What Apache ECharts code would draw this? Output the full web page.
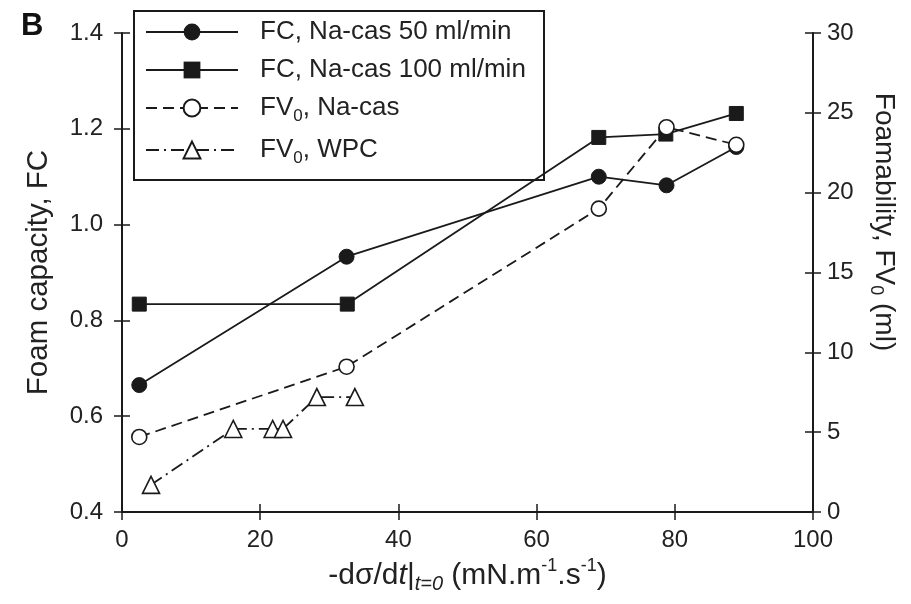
<!DOCTYPE html>
<html>
<head>
<meta charset="utf-8">
<script src="https://cdn.jsdelivr.net/npm/echarts@6/dist/echarts.min.js"></script>
<style>
  html, body { margin: 0; padding: 0; background: #fff; }
  #chart { width: 911px; height: 604px; }
</style>
</head>
<body>
<div id="chart"></div>
<script>
// values
const fc50X = [2.5, 32.5, 69, 78.8, 88.9]
const fc50Y = [0.665, 0.933, 1.10, 1.082, 1.162]
const fc100X = [2.5, 32.6, 69, 78.7, 88.9]
const fc100Y = [0.834, 0.834, 1.182, 1.189, 1.232]
const fvNaX = [2.5, 32.5, 69, 78.8, 88.9]
const fvNaY = [4.7, 9.1, 19.0, 24.1, 23.0]
const fvWpcX = [4.2, 16.1, 21.8, 23.3, 28.2, 33.7]
const fvWpcY = [1.7, 5.2, 5.2, 5.2, 7.2, 7.2]

const seriesNames = ['FC, Na-cas 50 ml/min', 'FC, Na-cas 100 ml/min', 'FV0, Na-cas', 'FV0, WPC']

const font = 'Liberation Sans, Arial, sans-serif'
const ink = '#1a1a1a'
const pair = (xs, ys) => xs.map((x, i) => [x, ys[i]])

const chart = echarts.init(document.getElementById('chart'))

const gridBox = { left: 122, right: 98, top: 33, bottom: 92 }

const baseAxis = {
  axisLine: { show: true, onZero: false, lineStyle: { color: ink, width: 2 } },
  splitLine: { show: false },
  axisLabel: { color: '#222', fontSize: 24, fontFamily: font, margin: 16 },
  axisTick: { show: true, length: 8, lineStyle: { color: ink, width: 1.5 } }
}
// second grid on the same box only draws the inner half of each tick
const tickOnly = {
  gridIndex: 1,
  axisLine: { show: false },
  splitLine: { show: false },
  axisLabel: { show: false },
  axisTick: { show: true, inside: true, length: 8, lineStyle: { color: ink, width: 1.5 } }
}

chart.setOption({
  animation: false,
  backgroundColor: '#fff',
  grid: [gridBox, gridBox],
  xAxis: [
    Object.assign({}, baseAxis, {
      type: 'value', min: 0, max: 100, interval: 20, position: 'bottom',
      name: '-d{n|σ}/d{it|t}|{sub|t=0} (mN.m{sup|-1}.s{sup|-1})',
      nameLocation: 'middle', nameGap: 32,
      nameTextStyle: {
        color: '#222', fontSize: 30, fontFamily: font,
        rich: {
          n: { fontSize: 30, fontFamily: font, color: '#222' },
          it: { fontSize: 30, fontFamily: font, fontStyle: 'italic', color: '#222' },
          sub: { fontSize: 20, fontFamily: font, fontStyle: 'italic', color: '#222', verticalAlign: 'bottom', padding: [18, 0, 0, 0] },
          sup: { fontSize: 18, fontFamily: font, color: '#222', verticalAlign: 'top', padding: [0, 0, 15, 0] }
        }
      }
    }),
    { type: 'value', min: 0, max: 100, position: 'top',
      axisLine: { show: true, lineStyle: { color: ink, width: 2 } },
      axisTick: { show: false }, axisLabel: { show: false }, splitLine: { show: false } },
    Object.assign({}, tickOnly, { type: 'value', min: 0, max: 100, interval: 20, position: 'bottom' })
  ],
  yAxis: [
    Object.assign({}, baseAxis, {
      type: 'value', min: 0.4, max: 1.4, interval: 0.2, position: 'left',
      axisLabel: Object.assign({}, baseAxis.axisLabel, { margin: 19, formatter: v => v.toFixed(1) }),
      name: 'Foam capacity, FC', nameLocation: 'middle', nameGap: 68, nameRotate: 90,
      nameTextStyle: { color: '#222', fontSize: 29.5, fontFamily: font }
    }),
    Object.assign({}, baseAxis, {
      type: 'value', min: 0, max: 30, interval: 5, position: 'right',
      axisLabel: Object.assign({}, baseAxis.axisLabel, { margin: 14 })
    }),
    Object.assign({}, tickOnly, { type: 'value', min: 0.4, max: 1.4, interval: 0.2, position: 'left' }),
    Object.assign({}, tickOnly, { type: 'value', min: 0, max: 30, interval: 5, position: 'right' })
  ],
  legend: {
    left: 140, top: 14, orient: 'vertical',
    itemWidth: 92, itemHeight: 21, itemGap: 12,
    textStyle: {
      color: '#222', fontSize: 26, fontFamily: font, padding: [0, 0, 0, 17],
      rich: { sub: { fontSize: 17, fontFamily: font, color: '#222', verticalAlign: 'bottom', padding: [17, 0, 0, 0] } }
    },
    formatter: name => name.replace('FV0', 'FV{sub|0}'),
    data: seriesNames
  },
  graphic: [
    {
      type: 'rect', z: 3, left: 133, top: 10,
      shape: { width: 410, height: 169 },
      style: { fill: '#fff', stroke: ink, lineWidth: 2 }
    },
    {
      type: 'text', left: 21, top: 11,
      style: { text: 'B', fontSize: 31, fontWeight: 'bold', fontFamily: font, fill: '#111' }
    },
    {
      type: 'text', x: 884, y: 222, rotation: -Math.PI / 2,
      style: {
        text: 'Foamability, FV{sub|0} (ml)', align: 'center', verticalAlign: 'middle',
        fontSize: 28, fontFamily: font, fill: '#222',
        rich: {
          sub: { fontSize: 18, fontFamily: font, fill: '#222', verticalAlign: 'bottom', padding: [16, 0, 0, 0] }
        }
      }
    }
  ],
  series: [
    {
      name: seriesNames[0], type: 'line', xAxisIndex: 0, yAxisIndex: 0,
      data: pair(fc50X, fc50Y), symbol: 'circle', symbolSize: 15,
      lineStyle: { color: ink, width: 1.8 },
      itemStyle: { color: ink, borderColor: ink }
    },
    {
      name: seriesNames[1], type: 'line', xAxisIndex: 0, yAxisIndex: 0,
      data: pair(fc100X, fc100Y), symbol: 'rect', symbolSize: 14,
      lineStyle: { color: ink, width: 1.8 },
      itemStyle: { color: ink, borderColor: ink }
    },
    {
      name: seriesNames[2], type: 'line', xAxisIndex: 0, yAxisIndex: 1,
      data: pair(fvNaX, fvNaY), symbol: 'circle', symbolSize: 15,
      lineStyle: { color: ink, width: 1.8, type: [11, 6] },
      itemStyle: { color: '#fff', borderColor: ink, borderWidth: 1.6 }
    },
    {
      name: seriesNames[3], type: 'line', xAxisIndex: 0, yAxisIndex: 1,
      data: pair(fvWpcX, fvWpcY), symbol: 'triangle', symbolSize: 17,
      lineStyle: { color: ink, width: 1.8, type: [13, 5, 2, 5] },
      itemStyle: { color: '#fff', borderColor: ink, borderWidth: 1.6 }
    }
  ]
})
</script>
</body>
</html>
